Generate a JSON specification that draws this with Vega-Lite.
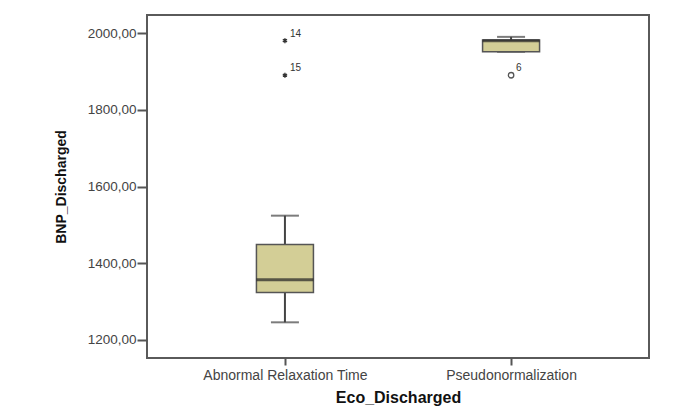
{
  "$schema": "https://vega.github.io/schema/vega-lite/v6.json",
  "width": 502,
  "height": 343,
  "autosize": {"type": "none"},
  "padding": {"left": 147, "top": 15, "right": 28, "bottom": 54},
  "background": "white",
  "config": {
    "font": "Liberation Sans",
    "view": {"stroke": "#5a5a5a", "strokeWidth": 2}
  },
  "datasets": {
    "boxes": [
      {"group": "Abnormal Relaxation Time", "min": 1246, "q1": 1324, "median": 1357, "q3": 1449, "max": 1524},
      {"group": "Pseudonormalization", "min": 1951, "q1": 1951, "median": 1980, "q3": 1982, "max": 1990}
    ],
    "outliers": [
      {"group": "Abnormal Relaxation Time", "value": 1980, "id": "14", "kind": "extreme"},
      {"group": "Abnormal Relaxation Time", "value": 1890, "id": "15", "kind": "extreme"},
      {"group": "Pseudonormalization", "value": 1890, "id": "6", "kind": "outlier"}
    ]
  },
  "encoding": {
    "x": {
      "field": "group",
      "type": "nominal",
      "sort": ["Abnormal Relaxation Time", "Pseudonormalization"],
      "scale": {"type": "point", "padding": 0.61},
      "axis": {
        "title": "Eco_Discharged",
        "titleFontSize": 16,
        "titleFontWeight": "bold",
        "titleColor": "#111",
        "titlePadding": 7,
        "labelAngle": 0,
        "labelFontSize": 14,
        "labelColor": "#444",
        "labelPadding": 3,
        "tickSize": 7,
        "tickColor": "#555",
        "tickWidth": 2,
        "domain": false
      }
    }
  },
  "layer": [
    {
      "data": {"name": "boxes"},
      "mark": {"type": "rule", "color": "#444", "strokeWidth": 2},
      "encoding": {
        "y": {
          "field": "min",
          "type": "quantitative",
          "scale": {"domain": [1153, 2047], "nice": false, "zero": false},
          "axis": {
            "title": "BNP_Discharged",
            "titleFontSize": 14,
            "titleFontWeight": "bold",
            "titleColor": "#111",
            "titlePadding": 19,
            "values": [1200, 1400, 1600, 1800, 2000],
            "labelExpr": "replace(format(datum.value, '.2f'), '.', ',')",
            "labelFontSize": 13.5,
            "labelColor": "#444",
            "labelPadding": 1,
            "tickSize": 10,
            "tickColor": "#555",
            "tickWidth": 2,
            "grid": false,
            "domain": false
          }
        },
        "y2": {"field": "max"}
      }
    },
    {
      "data": {"name": "boxes"},
      "mark": {"type": "tick", "color": "#444", "thickness": 2, "size": 28},
      "encoding": {"y": {"field": "min", "type": "quantitative"}}
    },
    {
      "data": {"name": "boxes"},
      "mark": {"type": "tick", "color": "#444", "thickness": 2, "size": 28},
      "encoding": {"y": {"field": "max", "type": "quantitative"}}
    },
    {
      "data": {"name": "boxes"},
      "mark": {"type": "bar", "size": 57, "fill": "#d3ce96", "stroke": "#555", "strokeWidth": 1.5},
      "encoding": {
        "y": {"field": "q1", "type": "quantitative"},
        "y2": {"field": "q3"}
      }
    },
    {
      "data": {"name": "boxes"},
      "mark": {"type": "tick", "color": "#222", "thickness": 3, "size": 57},
      "encoding": {"y": {"field": "median", "type": "quantitative"}}
    },
    {
      "data": {"name": "outliers"},
      "transform": [{"filter": "datum.kind == 'extreme'"}],
      "mark": {
        "type": "point",
        "shape": "M0,-1L0,1M-0.87,-0.5L0.87,0.5M-0.87,0.5L0.87,-0.5",
        "size": 24,
        "stroke": "#333",
        "strokeWidth": 1.4,
        "filled": false,
        "opacity": 1
      },
      "encoding": {"y": {"field": "value", "type": "quantitative"}}
    },
    {
      "data": {"name": "outliers"},
      "transform": [{"filter": "datum.kind == 'outlier'"}],
      "mark": {"type": "point", "shape": "circle", "size": 30, "stroke": "#555", "strokeWidth": 1.3, "filled": false, "opacity": 1},
      "encoding": {"y": {"field": "value", "type": "quantitative"}}
    },
    {
      "data": {"name": "outliers"},
      "mark": {"type": "text", "align": "left", "baseline": "middle", "dx": 5, "dy": -7, "fontSize": 10, "color": "#333"},
      "encoding": {
        "y": {"field": "value", "type": "quantitative"},
        "text": {"field": "id"}
      }
    }
  ]
}
